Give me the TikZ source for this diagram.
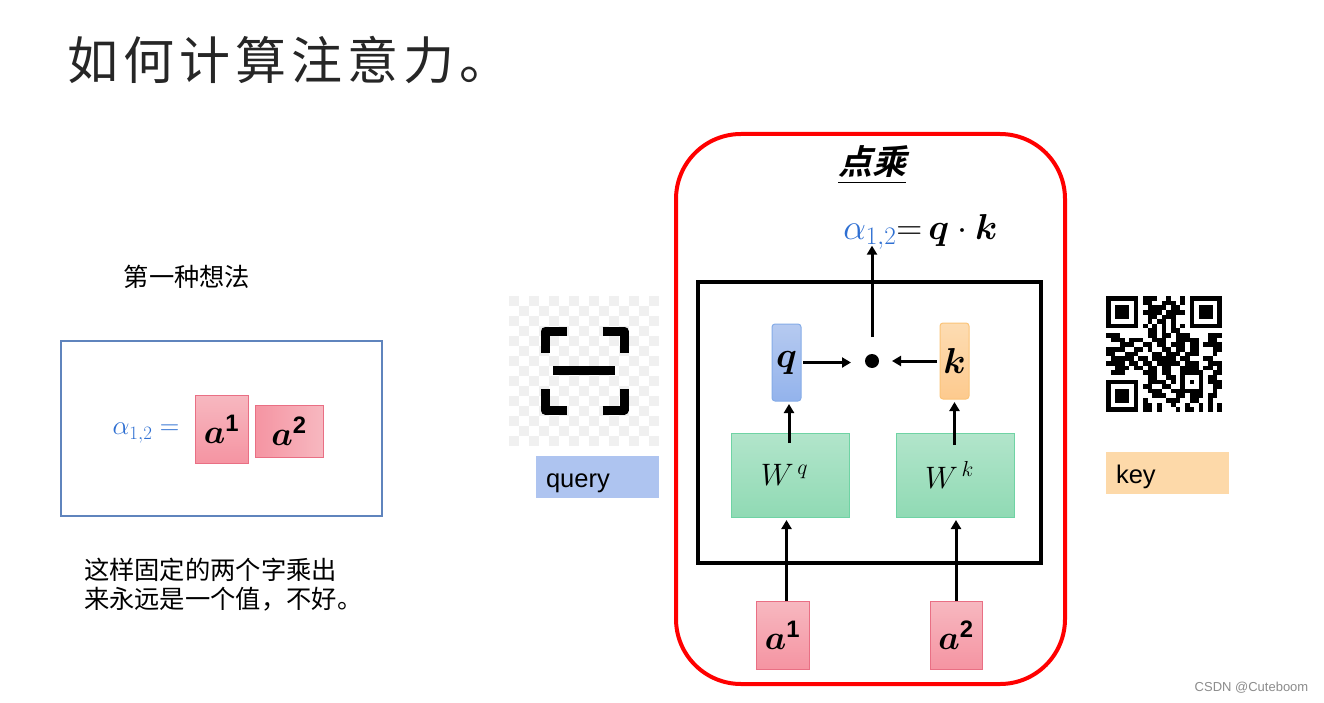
\documentclass[tikz,border=0pt]{standalone}
\usepackage{fix-cm}
\usepackage{amsmath,amssymb}
\usepackage{fontspec}
\usepackage{xcolor}
\usepackage{tikz}
\usetikzlibrary{arrows.meta}
\setmainfont{Liberation Sans}
\newfontfamily\cjk{Noto Sans CJK SC}
\newfontfamily\cjktitle[LetterSpace=10]{Noto Sans CJK SC}
\newfontfamily\cjkslant[FakeSlant=0.25,BoldFont={Noto Sans CJK SC Bold}]{Noto Sans CJK SC}
\definecolor{framered}{HTML}{ff0000}
\definecolor{alphablue}{HTML}{2e6fd2}
\definecolor{leftline}{HTML}{5f84bd}
\definecolor{pinkline}{HTML}{e96f84}
\definecolor{pinktop}{HTML}{f7b8c0}
\definecolor{pinkbot}{HTML}{f594a2}
\definecolor{greenline}{HTML}{6fd3a4}
\definecolor{greentop}{HTML}{b2e5cb}
\definecolor{greenbot}{HTML}{90dab4}
\definecolor{qline}{HTML}{85ace8}
\definecolor{qtop}{HTML}{b6caf0}
\definecolor{qbot}{HTML}{93b3ec}
\definecolor{kline}{HTML}{fbc479}
\definecolor{ktop}{HTML}{fddcb2}
\definecolor{kbot}{HTML}{fdca8e}
\definecolor{querytag}{HTML}{aec4f0}
\definecolor{keytag}{HTML}{fdd9a9}
\newcommand{\fsz}[1]{\fontsize{#1}{#1}\selectfont}

\begin{document}
\begin{tikzpicture}[x=1pt,y=-1pt,
 every node/.style={inner sep=0pt,outer sep=0pt},
 pinkbox/.style={draw=pinkline,line width=1pt,top color=pinktop,bottom color=pinkbot},
 greenbox/.style={draw=greenline,line width=1pt,top color=greentop,bottom color=greenbot,minimum width=118,minimum height=84},
 cjktext/.style={font=\cjk\fsz{25.3},align=left},
 tagbox/.style={minimum width=123,minimum height=42,text width=103,text height=26pt,text depth=6pt,align=left,font=\fsz{25.5}},
 link/.style={-{Triangle[length=9pt,width=10pt]},line width=3pt,black}]
\path[use as bounding box,fill=white](0,0)rectangle(1324,703);

% checkerboard behind the scan icon
\foreach \i in {0,...,14}
  \foreach \j in {0,...,14}
    {\pgfmathparse{int(mod(\i+\j,2))}
     \ifnum\pgfmathresult=0 \fill[black!6](509+10*\i,296+10*\j)rectangle +(10,10);\fi}
% scan icon
\foreach \sx/\sy/\dx/\dy in {545/331/1/1,624/331/-1/1,545/410/1/-1,624/410/-1/-1}
  {\draw[line width=9pt,line join=round](\sx+21.5*\dx,\sy)--(\sx,\sy)--(\sx,\sy+21.5*\dy);}
\draw[line width=9pt](553,370.5)--(615,370.5);

% qr code
\foreach \r/\cells in {
 0/{0/6,8/10,13/13,16/16,18/24},
 1/{0/0,6/6,8/9,12/14,16/16,18/18,24/24},
 2/{0/0,2/4,6/6,9/12,14/15,18/18,20/22,24/24},
 3/{0/0,2/4,6/6,8/11,13/16,18/18,20/22,24/24},
 4/{0/0,2/4,6/6,9/10,12/14,18/18,20/22,24/24},
 5/{0/0,6/6,9/9,11/12,14/14,18/18,24/24},
 6/{0/6,8/8,10/10,12/12,14/14,16/16,18/24},
 7/{9/10,12/12,14/15},
 8/{0/2,9/10,12/13,15/17,22/24},
 9/{1/3,5/7,10/12,15/19,22/23},
 10/{3/5,8/9,11/12,14/16,18/19,21/24},
 11/{0/3,6/7,9/9,12/13,15/16,18/19,23/24},
 12/{0/1,4/6,10/11,13/15,17/19,23/23},
 13/{1/5,7/8,10/14,16/17,21/22},
 14/{0/3,5/6,8/9,11/15,17/19,22/24},
 15/{2/4,6/7,9/10,12/13,16/19,21/22,24/24},
 16/{1/3,8/10,12/13,16/20,23/24},
 17/{9/10,13/14,16/16,20/20,22/23},
 18/{0/6,9/12,14/14,16/16,18/18,20/20,22/24},
 19/{0/0,6/6,8/9,12/13,16/16,20/20,23/24},
 20/{0/0,2/4,6/6,9/11,14/20,23/23},
 21/{0/0,2/4,6/6,10/12,15/16,18/20,22/23},
 22/{0/0,2/4,6/6,8/8,13/15,18/19,22/22},
 23/{0/0,6/6,8/9,11/11,14/14,17/17,20/20,22/22,24/24},
 24/{0/6,8/9,11/11,15/15,17/18,20/20,22/22,24/24}}
  {\foreach \a/\b in \cells
    {\fill(1106+4.64*\a,296+4.64*\r)rectangle(1106+4.64*\b+4.64,296+4.64*\r+4.64);}}

\node[anchor=west,font=\cjktitle\fsz{51},text=black!85](title)at(67,60){如何计算注意力。};

% left part
\node[cjktext](idea)at(187,277){第一种想法};
\node[draw=leftline,line width=1.2pt,minimum width=321,minimum height=175](leftbox)at(221.5,428.5){};
\node[text=alphablue,font=\fsz{27}](alphal)at(146,433){$\alpha_{1,2}=$};
\node[pinkbox,minimum width=53,minimum height=68,font=\fsz{34}](la1)at(221.5,429){$\boldsymbol{a}^{\mathbf{1}}$};
\node[draw=pinkline,line width=1pt,left color=pinkbot,right color=pinktop,minimum width=68,minimum height=52,font=\fsz{34}](la2)at(289,431){$\boldsymbol{a}^{\mathbf{2}}$};
\node[cjktext,anchor=west](note)at(84,584.5){这样固定的两个字乘出\\[3pt]来永远是一个值，不好。};

% tags
\node[tagbox,fill=querytag](query)at(597.5,477){query};
\node[tagbox,fill=keytag](key)at(1167.5,473){key};

% right part
\node[draw=framered,line width=4pt,rounded corners=65pt,minimum width=389,minimum height=550](frame)at(870.5,409){};
\node[font=\cjkslant\bfseries\fsz{34}](title2)at(872,165){\underline{点乘}};
\node[font=\fsz{36}](form)at(920.5,232){$\textcolor{alphablue}{\alpha_{1,2}}{=}\,\boldsymbol{q}\cdot\boldsymbol{k}$};
\node[draw,line width=4pt,minimum width=343,minimum height=281](inner)at(869.5,422.5){};
\node[draw=qline,line width=1pt,rounded corners=3pt,top color=qtop,bottom color=qbot,minimum width=29,minimum height=77,font=\fsz{36}](q)at(786.5,362.5){$\boldsymbol{q}$};
\node[draw=kline,line width=1pt,rounded corners=3pt,top color=ktop,bottom color=kbot,minimum width=29,minimum height=76,font=\fsz{36}](k)at(954.5,361){$\boldsymbol{k}$};
\node[circle,fill=black,minimum size=14](dotp)at(872,361){};
\node[greenbox,font=\fsz{31}](wq)at(790.5,475){$W^{\,q}$\kern12pt};
\node[greenbox,font=\fsz{31}](wk)at(955.5,475){$W^{\,k}$\kern12pt};
\node[pinkbox,minimum width=53,minimum height=68,font=\fsz{34}](a1)at(782.5,635){$\boldsymbol{a}^{\mathbf{1}}$};
\node[pinkbox,minimum width=52,minimum height=68,font=\fsz{34}](a2)at(956,635){$\boldsymbol{a}^{\mathbf{2}}$};

\draw[link,shorten <=2pt,shorten >=21pt](q.east)--(q.east-|dotp.center);
\draw[link,shorten <=3pt,shorten >=20pt](k.west)--(dotp.center);
\draw[link,shorten <=24pt,shorten >=-4pt](dotp.center)--(dotp.center|-form.south);
\draw[link,shorten >=3pt]([xshift=-1.5pt,yshift=-10pt]wq.north)--([xshift=2.5pt]q.south);
\draw[link,shorten >=3pt]([xshift=-1pt,yshift=-12pt]wk.north)--(k.south);
\draw[link,shorten >=3pt]([xshift=4pt]a1.north)--([xshift=-4pt]wq.south);
\draw[link,shorten >=3pt](a2.north)--(a2.north|-wk.south);

\node[text=black!45,font=\fsz{13}](mark)at(1251.5,688){CSDN @Cuteboom};
\end{tikzpicture}
\end{document}
